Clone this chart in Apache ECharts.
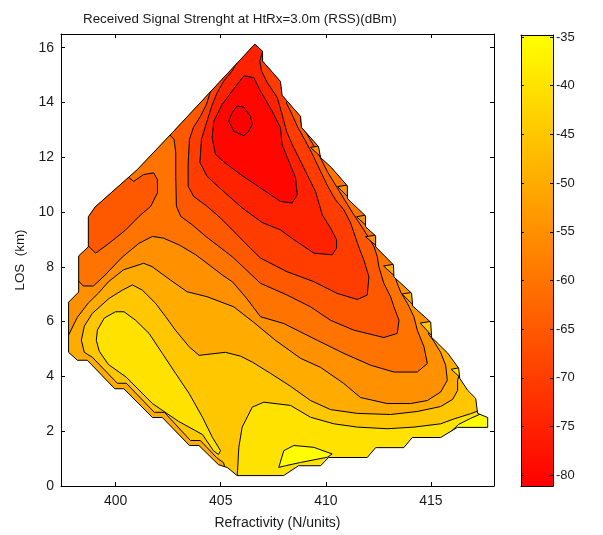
<!DOCTYPE html>
<html>
<head>
<meta charset="utf-8">
<script src="https://cdn.jsdelivr.net/npm/echarts@6/dist/echarts.min.js"></script>
<style>
  html, body { margin: 0; padding: 0; background: #fff; }
  #chart { width: 603px; height: 535px; }
</style>
</head>
<body>
<div id="chart"></div>
<script>
// colour limits of the map (dBm) and tick values
const cMin = -81.1, cMax = -34.8;
const xTicks = [400, 405, 410, 415];
const cbTicks = [-80, -75, -70, -65, -60, -55, -50, -45, -40, -35];

// edge of the computed area [refractivity, LOS km]
const outline = [[406.62,16.13],[406.99,15.87],[406.99,15.51],[407.84,14.77],[407.92,14.26],[408.80,13.49],[408.84,13.09],[409.65,12.39],[409.75,11.99],[410.27,11.62],[411.02,10.96],[411.03,10.49],[411.89,9.86],[411.89,9.46],[412.37,9.13],[412.37,8.73],[413.22,8.07],[413.24,7.63],[414.08,7.04],[414.13,6.57],[414.99,5.98],[415.03,5.43],[415.80,4.85],[416.32,4.30],[416.37,3.93],[416.75,3.49],[417.13,3.20],[417.22,2.65],[417.70,2.50],[417.70,2.14],[416.26,2.14],[415.46,1.77],[414.11,1.77],[413.71,1.40],[412.37,1.40],[411.97,1.04],[410.13,1.04],[409.75,0.74],[408.70,0.74],[407.99,0.38],[405.78,0.38],[405.32,0.67],[404.89,0.78],[403.96,1.48],[403.51,1.48],[402.22,2.50],[401.75,2.50],[400.39,3.55],[399.96,3.55],[398.65,4.59],[398.18,4.59],[397.76,4.88],[397.76,6.71],[398.24,7.08],[398.24,8.40],[398.70,8.73],[398.70,9.83],[399.03,10.19],[401.03,11.55],[402.70,12.90]];

// contour lines (closed loops, or open lines that run past the edge)
const c80 = [[405.78,13.87],[406.10,13.83],[406.41,13.50],[406.50,13.20],[406.33,12.95],[406.10,12.79],[405.62,12.95],[405.38,13.32],[405.54,13.63]];
const c75 = [[406.10,14.97],[406.57,14.91],[406.89,14.42],[407.45,13.68],[407.84,13.08],[407.92,12.47],[408.24,11.85],[408.56,11.25],[408.64,10.63],[408.40,10.33],[407.84,10.39],[406.89,10.88],[405.94,11.37],[405.22,11.79],[404.75,12.10],[404.59,12.71],[404.67,13.32],[405.07,13.93],[405.54,14.42]];
const c70 = [[405.65,15.58],[405.78,15.46],[405.54,15.15],[405.14,14.78],[404.83,14.36],[404.60,13.93],[404.37,13.38],[404.08,12.65],[404.01,11.81],[404.35,11.30],[405.14,10.75],[406.02,10.15],[406.97,9.62],[407.84,9.35],[408.48,8.99],[409.43,8.50],[410.30,8.44],[410.51,8.68],[410.51,8.99],[410.22,9.42],[409.83,9.90],[409.51,10.75],[409.11,11.37],[408.80,11.85],[408.40,12.47],[408.13,12.95],[407.92,13.56],[407.69,14.18],[407.21,14.73],[406.94,15.15],[406.86,15.52],[406.97,15.82],[407.08,15.95]];
const c65 = [[404.37,14.52],[404.51,14.41],[404.32,13.93],[404.03,13.49],[403.70,13.09],[403.51,12.65],[403.45,11.79],[403.45,10.94],[403.71,10.57],[404.35,10.21],[404.99,9.78],[405.78,9.17],[406.41,8.68],[406.89,8.32],[408.16,7.82],[409.43,7.46],[410.54,7.03],[411.50,6.81],[411.97,6.97],[412.05,7.64],[411.81,8.25],[411.56,8.74],[411.18,9.60],[410.86,10.08],[410.46,10.45],[410.13,10.89],[409.75,11.48],[409.37,12.10],[408.99,12.65],[408.65,13.12],[408.37,13.60],[408.13,13.97],[408.22,14.22]];
const c60 = [[402.51,12.87],[402.78,12.65],[402.86,12.16],[402.86,11.30],[402.89,10.21],[403.10,9.84],[403.65,9.53],[404.29,9.11],[404.92,8.74],[405.56,8.36],[406.89,7.40],[408.16,6.97],[409.27,6.54],[410.22,6.05],[411.33,5.69],[412.76,5.42],[413.40,5.57],[413.48,6.05],[413.24,6.54],[413.08,6.91],[412.76,7.40],[412.52,8.01],[412.45,8.37],[412.29,8.74],[411.81,9.35],[411.33,9.90],[410.89,10.45],[410.54,10.89],[410.07,11.48],[409.59,12.21],[409.11,12.83],[408.80,13.31],[408.84,13.64]];
const c60b = [[400.51,11.33],[400.64,11.25],[400.86,11.12],[401.33,11.37],[401.81,11.43],[401.99,11.18],[401.99,10.70],[401.67,10.21],[401.11,9.84],[400.48,9.35],[399.69,8.86],[399.05,8.50],[398.73,8.74],[398.60,8.80]];
const c55 = [[398.13,7.48],[398.24,7.48],[398.46,7.30],[398.94,7.30],[399.46,7.67],[400.32,8.36],[401.11,8.86],[401.75,9.11],[402.27,9.05],[403.02,8.80],[403.81,8.44],[404.45,8.07],[405.08,7.70],[405.56,7.45],[406.22,6.86],[406.89,6.18],[408.00,5.93],[409.59,5.32],[410.86,4.84],[412.13,4.41],[413.24,4.16],[414.35,4.16],[414.83,4.47],[414.67,5.08],[414.35,5.69],[414.19,6.18],[413.88,6.67],[413.56,7.08],[413.37,7.45],[413.27,7.74],[413.37,7.96]];
const c50 = [[397.65,5.47],[397.76,5.51],[398.18,6.16],[398.70,6.68],[399.18,7.04],[399.65,7.45],[400.37,7.89],[401.33,8.13],[401.73,8.01],[402.60,7.52],[403.40,7.09],[404.35,6.91],[405.62,6.54],[406.56,5.98],[407.60,5.32],[408.80,4.66],[409.75,4.33],[410.84,3.75],[411.65,3.23],[412.92,3.01],[414.03,3.01],[414.83,3.12],[415.46,3.43],[415.78,3.86],[415.70,4.41],[415.46,4.88],[415.13,5.29],[414.89,5.54],[414.94,5.76],[415.13,5.87]];
const c45 = [[405.27,0.49],[405.13,0.85],[404.80,1.04],[404.03,1.66],[403.56,1.66],[402.32,2.69],[401.84,2.69],[400.51,3.75],[400.08,3.75],[398.89,4.70],[398.51,4.88],[398.37,5.32],[398.51,5.84],[398.89,6.30],[399.69,6.85],[400.32,7.15],[400.80,7.34],[401.27,7.15],[401.90,6.67],[402.38,6.18],[402.84,5.69],[403.50,5.08],[403.97,4.77],[405.22,4.88],[405.94,4.74],[406.51,4.52],[407.37,4.11],[408.32,3.64],[409.27,3.12],[410.22,2.79],[411.50,2.65],[413.08,2.61],[414.35,2.72],[415.46,2.90],[416.03,3.16],[416.27,3.49],[416.27,3.86],[416.41,4.22]];
const c40a = [[399.13,5.69],[399.46,6.13],[399.99,6.36],[400.40,6.36],[400.95,6.05],[401.59,5.57],[402.22,4.84],[402.86,4.10],[403.50,3.37],[404.13,2.51],[404.60,1.78],[404.99,1.29],[404.89,1.15],[404.65,1.29],[404.13,1.88],[402.99,2.36],[401.75,3.01],[400.51,3.97],[399.65,4.44],[399.22,4.92],[399.08,5.32]];
const c40b = [[405.75,0.12],[405.80,0.56],[405.86,1.41],[406.02,2.15],[406.50,2.88],[407.05,3.06],[408.32,2.94],[409.27,2.51],[410.38,2.27],[411.50,2.15],[412.92,2.09],[414.19,2.15],[415.46,2.27],[416.10,2.45],[416.89,2.64],[417.41,2.79]];
const c35a = [[407.76,0.68],[408.00,1.29],[408.48,1.48],[409.43,1.41],[410.30,1.17],[410.07,1.05],[408.80,0.86],[408.08,0.74]];
const c35b = [[415.75,1.84],[416.32,2.25],[416.89,2.47],[417.37,2.63],[417.84,2.65]];

// points outside the area that close each open line into a region
const c70Out = [[407.37,16.86],[405.22,16.86]];
const c65Out = [[408.80,17.04],[403.08,17.04]];
const c60Out = [[409.75,17.04],[401.65,17.04],[401.65,13.38]];
const c60bOut = [[398.51,10.08],[400.22,11.48]];
const c55Out = [[418.32,7.96],[418.32,17.04],[396.41,17.04],[396.41,7.48]];
const c50Out = [[418.32,5.87],[418.32,17.04],[396.41,17.04],[396.41,5.47]];
const c45Out = [[418.32,4.22],[418.32,17.04],[396.41,17.04],[396.41,0.19],[405.27,0.19]];
const c40bOut = [[418.32,2.39],[418.32,-0.17],[405.75,-0.17]];
const c35bOut = [[417.84,1.95]];

// small notches where the lines meet the stepped right edge, and their band
const notches = [
  [[409.27,12.36],[409.80,12.43],[409.80,11.99]],
  [[410.56,10.93],[411.13,11.00],[411.13,10.49]],
  [[411.46,9.83],[411.99,9.90],[411.99,9.46]],
  [[411.89,9.10],[412.46,9.17],[412.46,8.73]],
  [[412.75,8.03],[413.32,8.11],[413.32,7.63]],
  [[413.63,7.01],[414.20,7.08],[414.20,6.57]],
  [[414.49,5.95],[415.10,6.02],[415.10,5.43]],
  [[415.96,4.26],[416.44,4.33],[416.44,3.93]]
];
const notchBand = [-55, -55, -55, -55, -50, -50, -45, -40];

// MATLAB "autumn" map: red at cMin, yellow at cMax
function cmap(v) {
  const t = Math.max(0, Math.min(1, (v - cMin) / (cMax - cMin)));
  return 'rgb(255,' + Math.round(255 * t) + ',0)';
}

// filled bands, painted from the outside in; v = lower edge of the band
const fills = [
  { pts: outline, v: -45 },
  { pts: c45.concat(c45Out), v: -50 },
  { pts: c50.concat(c50Out), v: -55 },
  { pts: c55.concat(c55Out), v: -60 },
  { pts: c60.concat(c60Out), v: -65 },
  { pts: c60b.concat(c60bOut), v: -65 },
  { pts: c65.concat(c65Out), v: -70 },
  { pts: c70.concat(c70Out), v: -75 },
  { pts: c75, v: -80 },
  { pts: c80, v: cMin },
  { pts: c40a, v: -40 },
  { pts: c40b.concat(c40bOut), v: -40 },
  { pts: c35a, v: -35 },
  { pts: c35b.concat(c35bOut), v: -35 }
];
const loops = [c80, c75, c40a, c35a];
const openLines = [c70, c65, c60, c60b, c55, c50, c45, c40b, c35b];

function renderContours(params, api) {
  const P = pts => pts.map(p => api.coord(p));
  const clip = P(outline);
  const kids = [];
  fills.forEach(f => kids.push({
    type: 'polygon', shape: { points: P(f.pts) },
    style: { fill: cmap(f.v), stroke: 'none' }
  }));
  loops.forEach(l => kids.push({
    type: 'polygon', shape: { points: P(l) },
    style: { fill: 'none', stroke: '#000', lineWidth: 1 }
  }));
  openLines.forEach(l => kids.push({
    type: 'polyline', shape: { points: P(l) },
    style: { fill: 'none', stroke: '#000', lineWidth: 1 }
  }));
  notches.forEach((n, i) => kids.push({
    type: 'polygon', shape: { points: P(n) },
    style: { fill: cmap(notchBand[i]), stroke: '#000', lineWidth: 1 }
  }));
  return {
    type: 'group',
    children: [
      { type: 'group', children: kids, clipPath: { type: 'polygon', shape: { points: clip } } },
      { type: 'polygon', shape: { points: clip }, style: { fill: 'none', stroke: '#000', lineWidth: 1 } }
    ]
  };
}

function renderColorbar(params, api) {
  const a = api.coord([0, cMax]), b = api.coord([1, cMin]);
  return {
    type: 'rect',
    shape: { x: a[0], y: a[1], width: b[0] - a[0], height: b[1] - a[1] },
    style: {
      fill: new echarts.graphic.LinearGradient(0, 0, 0, 1, [
        { offset: 0, color: cmap(cMax) },
        { offset: 1, color: cmap(cMin) }
      ])
    }
  };
}

const font = { fontFamily: 'Liberation Sans, Arial, sans-serif', fontSize: 14, color: '#1a1a1a' };
const line = { onZero: false, lineStyle: { color: '#000', width: 1 } };
const tick = vals => ({ inside: true, length: 4, customValues: vals, lineStyle: { color: '#000' } });

const chart = echarts.init(document.getElementById('chart'));
chart.setOption({
  animation: false,
  title: {
    text: 'Received Signal Strenght at HtRx=3.0m (RSS)(dBm)',
    left: 78, top: 8,
    textStyle: { ...font, fontSize: 13.4, fontWeight: 'normal' }
  },
  grid: [
    { left: 61, top: 34, width: 433, height: 452 },
    { left: 521, top: 35, width: 32, height: 451 }
  ],
  xAxis: [
    {
      gridIndex: 0, type: 'value', min: 397.4, max: 418, position: 'bottom', z: 5,
      name: 'Refractivity (N/units)', nameLocation: 'middle', nameGap: 30, nameTextStyle: font,
      axisLine: line, axisTick: tick(xTicks),
      axisLabel: { ...font, margin: 8, customValues: xTicks },
      splitLine: { show: false }
    },
    {
      gridIndex: 0, type: 'value', min: 397.4, max: 418, position: 'top', z: 5,
      axisLine: line, axisTick: tick(xTicks), axisLabel: { show: false }, splitLine: { show: false }
    },
    {
      gridIndex: 1, type: 'value', min: 0, max: 1, position: 'bottom', z: 5,
      axisLine: line, axisTick: { show: false }, axisLabel: { show: false }, splitLine: { show: false }
    },
    {
      gridIndex: 1, type: 'value', min: 0, max: 1, position: 'top', z: 5,
      axisLine: line, axisTick: { show: false }, axisLabel: { show: false }, splitLine: { show: false }
    }
  ],
  yAxis: [
    {
      gridIndex: 0, type: 'value', min: 0, max: 16.5, interval: 2, position: 'left', z: 5,
      name: 'LOS  (km)', nameLocation: 'middle', nameGap: 34, nameTextStyle: { ...font, fontSize: 13.4 },
      axisLine: line, axisTick: { inside: true, length: 4, lineStyle: { color: '#000' } },
      axisLabel: { ...font, margin: 7, showMaxLabel: false }, splitLine: { show: false }
    },
    {
      gridIndex: 0, type: 'value', min: 0, max: 16.5, interval: 2, position: 'right', z: 5,
      axisLine: line, axisTick: { inside: true, length: 4, lineStyle: { color: '#000' } },
      axisLabel: { show: false }, splitLine: { show: false }
    },
    {
      gridIndex: 1, type: 'value', min: cMin, max: cMax, position: 'right', z: 5,
      axisLine: line, axisTick: { ...tick(cbTicks), length: 3 },
      axisLabel: { ...font, fontSize: 13, margin: 3, customValues: cbTicks }, splitLine: { show: false }
    },
    {
      gridIndex: 1, type: 'value', min: cMin, max: cMax, position: 'left', z: 5,
      axisLine: line, axisTick: { ...tick(cbTicks), length: 3 },
      axisLabel: { show: false }, splitLine: { show: false }
    }
  ],
  series: [
    {
      type: 'custom', xAxisIndex: 0, yAxisIndex: 0, silent: true,
      data: [[407, 8]], renderItem: renderContours
    },
    {
      type: 'custom', xAxisIndex: 2, yAxisIndex: 2, silent: true,
      data: [[0, cMin]], renderItem: renderColorbar
    }
  ]
});
</script>
</body>
</html>
